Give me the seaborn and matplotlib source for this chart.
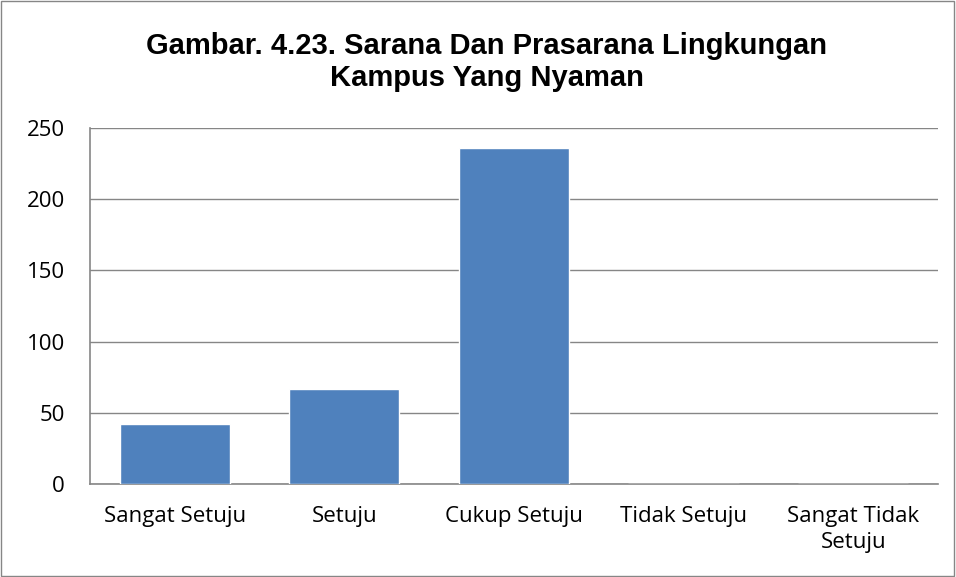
import matplotlib
matplotlib.use("Agg")
import matplotlib.pyplot as plt
import seaborn as sns
import pandas as pd

categories = ["Sangat Setuju", "Setuju", "Cukup Setuju", "Tidak Setuju", "Sangat Tidak\nSetuju"]
values = [42, 67, 236, 0, 0]
title = "Gambar. 4.23. Sarana Dan Prasarana Lingkungan\nKampus Yang Nyaman"

sns.set_style("white")
plt.rcParams['font.family'] = ['Open Sans', 'DejaVu Sans']

df = pd.DataFrame({"kategori": categories, "jumlah": values})

fig = plt.figure(figsize=(9.56, 5.77), dpi=100)
ax = fig.add_axes([0.0941, 0.1612, 0.887, 0.617])

sns.barplot(data=df, x="kategori", y="jumlah", color="#4F81BD", width=0.65,
            saturation=1, ax=ax, zorder=3)

ax.set_ylim(0, 250)
ax.set_yticks(range(0, 251, 50))
ax.grid(axis="y", color="#868686", linewidth=1, zorder=0)
ax.set_xlabel("")
ax.set_ylabel("")
ax.tick_params(axis="both", labelsize=16, length=0, colors="black")
ax.tick_params(axis="x", pad=16)
ax.tick_params(axis="y", pad=18)
for lbl in ax.get_xticklabels():
    lbl.set_linespacing(1.3)
for s in ["top", "right"]:
    ax.spines[s].set_visible(False)
for s in ["left", "bottom"]:
    ax.spines[s].set_color("#868686")
    ax.spines[s].set_linewidth(1.2)

fig.text(0.509, 0.893, title, ha="center", va="center", fontsize=21,
         fontweight="bold", family="Liberation Sans", color="black", linespacing=1.17)

fig.patches.append(plt.Rectangle((0.001, 0.001), 0.997, 0.997, transform=fig.transFigure,
                                 fill=False, edgecolor="#868686", linewidth=1))

fig.savefig("out.png", dpi=100, facecolor="white")
